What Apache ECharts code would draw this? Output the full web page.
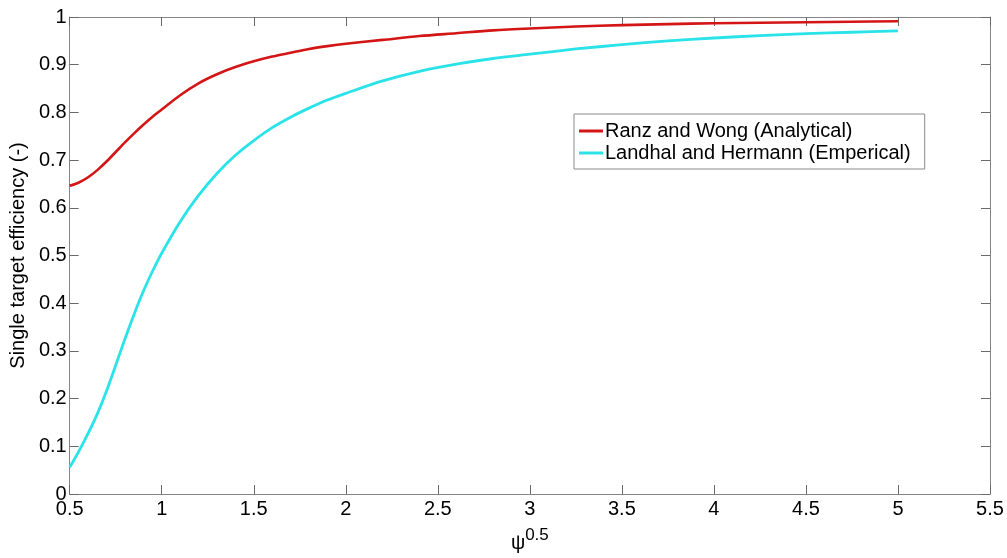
<!DOCTYPE html>
<html>
<head>
<meta charset="utf-8">
<title>Single target efficiency</title>
<script src="https://cdn.jsdelivr.net/npm/echarts@6/dist/echarts.min.js"></script>
<style>
  html, body { margin: 0; padding: 0; background: #fff; }
  #chart { width: 1007px; height: 558px; }
</style>
</head>
<body>
<div id="chart"></div>
<script>
// psi^0.5 sample points
const psiRoot = [0.5, 0.55, 0.6, 0.65, 0.7, 0.75, 0.8, 0.85, 0.9, 0.95, 1.0,
  1.1, 1.2, 1.3, 1.4, 1.5, 1.6, 1.7, 1.8, 1.9, 2.0, 2.2, 2.4, 2.6, 2.8, 3.0,
  3.25, 3.5, 3.75, 4.0, 4.25, 4.5, 4.75, 5.0];

// Ranz and Wong (analytical) efficiency
const ranzWong = [0.646, 0.653, 0.664, 0.679, 0.697, 0.717, 0.737, 0.756, 0.774, 0.791, 0.806,
  0.836, 0.861, 0.880, 0.895, 0.907, 0.917, 0.925, 0.933, 0.939, 0.944, 0.952, 0.960, 0.966, 0.972, 0.976,
  0.980, 0.983, 0.985, 0.987, 0.988, 0.989, 0.990, 0.991];

// Landhal and Hermann (empirical) efficiency
const landhalHermann = [0.056, 0.090, 0.127, 0.168, 0.216, 0.270, 0.325, 0.377, 0.425, 0.467, 0.505,
  0.571, 0.626, 0.672, 0.710, 0.741, 0.768, 0.790, 0.809, 0.826, 0.840, 0.866, 0.886, 0.901, 0.913, 0.922,
  0.933, 0.942, 0.950, 0.956, 0.961, 0.965, 0.968, 0.971];

const seriesNames = ['Ranz and Wong (Analytical)', 'Landhal and Hermann (Emperical)'];

const pairs = (xs, ys) => xs.map((x, i) => [x, ys[i]]);
const fmt = v => String(+v.toFixed(1));

const FONT = 'Liberation Sans, Arial, sans-serif';
const AXIS_COLOR = '#858585';
const RED = '#d41515';
const CYAN = '#2ae3e8';

const chart = echarts.init(document.getElementById('chart'), null, { renderer: 'canvas' });

const baseAxis = {
  axisLine: { show: true, onZero: false, lineStyle: { color: AXIS_COLOR, width: 1 } },
  axisTick: { show: true, inside: true, length: 9, lineStyle: { color: '#6a6a6a', width: 1 } },
  splitLine: { show: false }
};

chart.setOption({
  animation: false,
  backgroundColor: '#ffffff',
  textStyle: { fontFamily: FONT },
  grid: { left: 66, right: 17, top: 17, bottom: 54 },
  legend: {
    left: 574,
    top: 114,
    orient: 'vertical',
    icon: 'rect',
    itemWidth: 24,
    itemHeight: 3,
    itemGap: 2,
    padding: [7, 14, 6, 5],
    borderColor: '#8a8a8a',
    borderWidth: 1,
    backgroundColor: '#ffffff',
    textStyle: { fontFamily: FONT, fontSize: 20, color: '#000', lineHeight: 20, padding: [0, 0, 0, -3] },
    data: seriesNames
  },
  xAxis: [
    Object.assign({}, baseAxis, {
      type: 'value',
      position: 'bottom',
      min: 0.5, max: 5.5, interval: 0.5,
      axisLabel: { color: '#000', fontSize: 20, fontFamily: FONT, margin: 5, formatter: fmt },
      name: '{p|\u03C8}{s|0.5}',
      nameLocation: 'middle',
      nameGap: 33,
      nameTextStyle: {
        rich: {
          p: { fontSize: 20, fontFamily: FONT, color: '#000', lineHeight: 26, verticalAlign: 'bottom' },
          s: { fontSize: 17, fontFamily: FONT, color: '#000', lineHeight: 26, verticalAlign: 'top' }
        }
      }
    }),
    Object.assign({}, baseAxis, {
      type: 'value',
      position: 'top',
      min: 0.5, max: 5.5, interval: 0.5,
      axisLabel: { show: false }
    })
  ],
  yAxis: [
    Object.assign({}, baseAxis, {
      type: 'value',
      position: 'left',
      min: 0, max: 1, interval: 0.1,
      axisLabel: { color: '#000', fontSize: 20, fontFamily: FONT, margin: 3, formatter: fmt },
      name: 'Single target efficiency (-)',
      nameLocation: 'middle',
      nameRotate: 90,
      nameGap: 37,
      nameTextStyle: { fontSize: 20, fontFamily: FONT, color: '#000' }
    }),
    Object.assign({}, baseAxis, {
      type: 'value',
      position: 'right',
      min: 0, max: 1, interval: 0.1,
      axisLabel: { show: false }
    })
  ],
  series: [
    {
      name: seriesNames[0],
      type: 'line',
      data: pairs(psiRoot, ranzWong),
      symbol: 'none',
      smooth: 0.3,
      color: RED,
      itemStyle: { color: RED },
      lineStyle: { color: RED, width: 2.6 },
      z: 3
    },
    {
      name: seriesNames[1],
      type: 'line',
      data: pairs(psiRoot, landhalHermann),
      symbol: 'none',
      smooth: 0.3,
      color: CYAN,
      itemStyle: { color: CYAN },
      lineStyle: { color: CYAN, width: 2.8 },
      z: 2
    }
  ]
});
</script>
</body>
</html>
